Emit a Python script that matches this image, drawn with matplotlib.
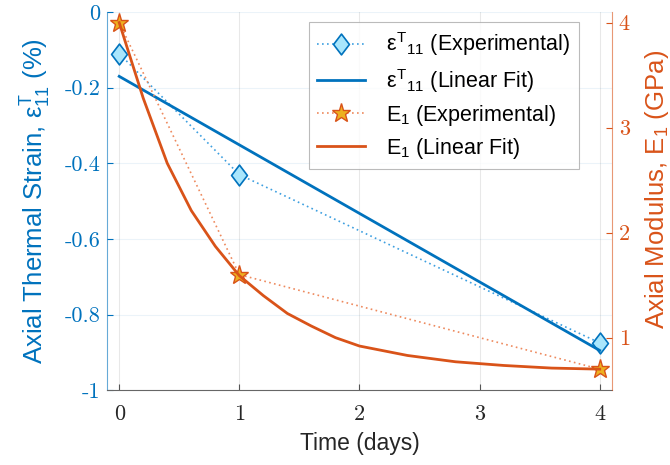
import matplotlib
matplotlib.use("Agg")
import matplotlib.pyplot as plt
from matplotlib.path import Path

plt.rcParams['font.family'] = ['Liberation Sans', 'DejaVu Sans']
plt.rcParams['mathtext.fontset'] = 'custom'
plt.rcParams['mathtext.rm'] = 'Liberation Sans'
plt.rcParams['mathtext.it'] = 'Liberation Sans'
plt.rcParams['mathtext.bf'] = 'Liberation Sans:bold'
plt.rcParams['axes.unicode_minus'] = False

# ---- data ----
t_exp = [0, 1, 4]
strain_exp = [-0.11, -0.43, -0.875]
t_strain_fit = [0, 4]
strain_fit = [-0.17, -0.895]
mod_exp = [4.0, 1.6, 0.7]
t_mod_fit = [0, 0.2, 0.4, 0.6, 0.8, 1.0, 1.2, 1.4, 1.6, 1.8, 2.0, 2.4, 2.8, 3.2, 3.6, 4.0]
mod_fit = [4.0, 3.28, 2.66, 2.21, 1.87, 1.59, 1.40, 1.23, 1.11, 1.00, 0.92, 0.83, 0.77, 0.735, 0.71, 0.70]

x_ticks = [0, 1, 2, 3, 4]
x_ticklabels = ['0', '1', '2', '3', '4']
yl_ticks = [-1, -0.8, -0.6, -0.4, -0.2, 0]
yl_ticklabels = ['-1', '-0.8', '-0.6', '-0.4', '-0.2', '0']
yr_ticks = [1, 2, 3, 4]
yr_ticklabels = ['1', '2', '3', '4']

BLUE = '#0072BD'
ORANGE = '#D95319'
BLUE_LIGHT = '#3D9FE0'
ORANGE_LIGHT = '#EE8A5E'

diamond = Path([(0, 1), (0.76, 0), (0, -1), (-0.76, 0), (0, 1)],
               [Path.MOVETO, Path.LINETO, Path.LINETO, Path.LINETO, Path.CLOSEPOLY])

fig = plt.figure(figsize=(6.70, 4.65), dpi=100)
ax = fig.add_axes([0.160, 0.161, 0.753, 0.813])
ax2 = ax.twinx()

h1, = ax.plot(t_exp, strain_exp, linestyle=(0, (1, 2)), color=BLUE_LIGHT, lw=1.2,
              marker=diamond, ms=15, mfc='#A9E6FC', mec=BLUE, mew=1.2,
              label=r'$ε^{T}{}_{11}$ (Experimental)')
h2, = ax.plot(t_strain_fit, strain_fit, color=BLUE, lw=2.0,
              label=r'$ε^{T}{}_{11}$ (Linear Fit)')
h3, = ax2.plot(t_exp, mod_exp, linestyle=(0, (1, 2)), color=ORANGE_LIGHT, lw=1.2,
               marker='*', ms=14, mfc='#EDB120', mec=ORANGE, mew=1.0,
               label=r'E$_1$ (Experimental)')
h4, = ax2.plot(t_mod_fit, mod_fit, color=ORANGE, lw=2.0,
               label=r'E$_1$ (Linear Fit)')

ax.set_xlim(-0.1, 4.1)
ax.set_ylim(-1, 0)
ax2.set_ylim(0.5, 4.1)

serif = 'cmr10'
ax.set_xticks(x_ticks)
ax.set_xticklabels(x_ticklabels, fontname=serif, fontsize=16, color='#262626')
ax.set_yticks(yl_ticks)
ax.set_yticklabels(yl_ticklabels, fontname=serif, fontsize=16, color=BLUE)
ax2.set_yticks(yr_ticks)
ax2.set_yticklabels(yr_ticklabels, fontname=serif, fontsize=16, color=ORANGE)

ax.tick_params(axis='x', direction='in', length=4, color='#555555', pad=10)
ax.tick_params(axis='y', direction='in', length=4, color=BLUE, pad=5)
ax2.tick_params(axis='y', direction='in', length=4, color=ORANGE, pad=5)

for a in (ax, ax2):
    a.spines['top'].set_visible(False)
ax.spines['left'].set_color(BLUE)
ax.spines['left'].set_alpha(0.6)
ax.spines['right'].set_visible(False)
ax.spines['bottom'].set_color('#666666')
ax2.spines['left'].set_visible(False)
ax2.spines['bottom'].set_visible(False)
ax2.spines['right'].set_color(ORANGE)
ax2.spines['right'].set_alpha(0.6)

ax.grid(True, axis='x', color='#262626', alpha=0.1, lw=0.8)
ax.grid(True, axis='y', color=BLUE, alpha=0.08, lw=0.8)
ax.set_axisbelow(True)

ax.set_xlabel('Time (days)', fontsize=16.5, color='#262626', labelpad=6)
ax.set_ylabel(r'Axial Thermal Strain, $ε_{11}^{T}$ (%)', fontsize=18.5, color=BLUE, labelpad=8)
ax2.set_ylabel(r'Axial Modulus, E$_1$ (GPa)', fontsize=18.5, color=ORANGE, labelpad=10)
ax2.yaxis.set_label_coords(1.062, 0.53)

leg = ax2.legend(handles=[h1, h2, h3, h4], loc='upper right',
                 bbox_to_anchor=(0.935, 0.974), borderaxespad=0,
                 fontsize=15.5, frameon=True, fancybox=False,
                 edgecolor='#AAAAAA', handlelength=2.2, labelspacing=0.38,
                 borderpad=0.4, handletextpad=1.0)
leg.get_frame().set_linewidth(0.8)

fig.savefig('out.png', dpi=100)
